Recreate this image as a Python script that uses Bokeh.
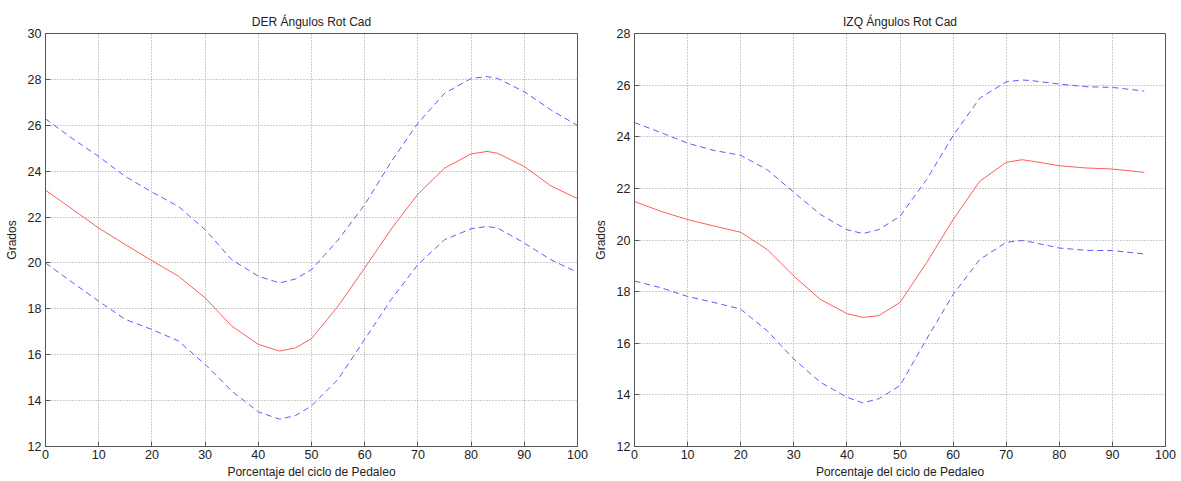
from bokeh.plotting import figure
from bokeh.layouts import row
from bokeh.models import FixedTicker, Range1d
from bokeh.embed import file_html
from bokeh.resources import INLINE

# DER data
der_x = [0, 5, 10, 15, 20, 25, 30, 35, 40, 44, 47, 50, 55, 60, 65, 70, 75, 80, 83, 85, 90, 95, 100]
der_mean = [23.17, 22.35, 21.52, 20.8, 20.1, 19.42, 18.48, 17.25, 16.45, 16.16, 16.3, 16.7, 18.12, 19.78, 21.48, 23.0, 24.13, 24.75, 24.86, 24.78, 24.2, 23.36, 22.8]
der_upper = [26.28, 25.43, 24.64, 23.77, 23.09, 22.46, 21.45, 20.14, 19.42, 19.13, 19.3, 19.71, 21.0, 22.54, 24.42, 26.09, 27.39, 28.04, 28.12, 28.04, 27.46, 26.67, 25.99]
der_lower = [20.0, 19.16, 18.33, 17.54, 17.1, 16.6, 15.58, 14.42, 13.51, 13.19, 13.35, 13.77, 14.93, 16.67, 18.41, 19.93, 21.01, 21.49, 21.59, 21.52, 20.87, 20.14, 19.59]

# IZQ data
izq_x = [0, 5, 10, 15, 20, 25, 30, 35, 40, 43, 46, 50, 55, 60, 65, 70, 73, 75, 80, 85, 90, 96]
izq_mean = [21.49, 21.11, 20.79, 20.54, 20.3, 19.63, 18.6, 17.7, 17.15, 17.0, 17.07, 17.58, 19.12, 20.79, 22.27, 23.01, 23.11, 23.05, 22.88, 22.79, 22.75, 22.62]
izq_upper = [24.55, 24.16, 23.75, 23.47, 23.28, 22.72, 21.85, 20.99, 20.4, 20.25, 20.4, 20.92, 22.34, 24.04, 25.49, 26.13, 26.2, 26.17, 26.04, 25.94, 25.91, 25.77]
izq_lower = [18.41, 18.15, 17.81, 17.58, 17.32, 16.48, 15.39, 14.49, 13.91, 13.69, 13.85, 14.36, 16.16, 17.89, 19.24, 19.91, 19.98, 19.91, 19.69, 19.6, 19.59, 19.46]

x_ticks = [0, 10, 20, 30, 40, 50, 60, 70, 80, 90, 100]
FONT = "Liberation Sans"
RED = "#ff5c5c"
BLUE = "#5c5cff"


def make_panel(title, xs, mean, upper, lower, ymax, left_border, right_border):
    p = figure(width=left_border + 532 + right_border, height=481,
               x_range=Range1d(0, 100), y_range=Range1d(12, ymax),
               output_backend="svg", toolbar_location=None,
               min_border_left=left_border, min_border_right=right_border,
               min_border_top=33, min_border_bottom=33, title=title)
    p.title.align = "center"
    p.title.text_font = FONT
    p.title.text_font_size = "12px"
    p.title.text_font_style = "normal"
    p.title.text_color = "#222222"
    p.outline_line_color = "#555555"
    p.outline_line_width = 1
    p.background_fill_color = "white"
    p.border_fill_color = "white"

    p.xaxis.ticker = FixedTicker(ticks=x_ticks)
    p.yaxis.ticker = FixedTicker(ticks=list(range(12, ymax + 1, 2)))
    for ax in (p.xaxis[0], p.yaxis[0]):
        ax.major_tick_in = 5
        ax.major_tick_out = 0
        ax.minor_tick_in = 0
        ax.minor_tick_out = 0
        ax.axis_line_color = "#555555"
        ax.major_tick_line_color = "#555555"
        ax.major_label_text_font = FONT
        ax.major_label_text_font_size = "12.5px"
        ax.major_label_text_color = "#222222"
        ax.axis_label_text_font = FONT
        ax.axis_label_text_font_size = "12px"
        ax.axis_label_text_font_style = "normal"
        ax.axis_label_text_color = "#222222"
    p.xaxis.axis_label = "Porcentaje del ciclo de Pedaleo"
    p.yaxis.axis_label = "Grados"
    p.xaxis.major_label_standoff = 3
    p.xaxis.axis_label_standoff = 3
    p.yaxis.major_label_standoff = 4
    p.yaxis.axis_label_standoff = 6

    for g in (p.xgrid[0], p.ygrid[0]):
        g.grid_line_color = "#9a9a9a"
        g.grid_line_dash = "1 2"
        g.grid_line_width = 1

    p.line(xs, upper, line_color=BLUE, line_dash="6 4", line_width=1)
    p.line(xs, lower, line_color=BLUE, line_dash="6 4", line_width=1)
    p.line(xs, mean, line_color=RED, line_width=1)
    return p


p1 = make_panel("DER Ángulos Rot Cad", der_x, der_mean, der_upper, der_lower, 30, 45, 13)
p2 = make_panel("IZQ Ángulos Rot Cad", izq_x, izq_mean, izq_upper, izq_lower, 28, 43, 18)
layout = row(p1, p2)

open("out.html", "w").write(file_html(layout, INLINE))
